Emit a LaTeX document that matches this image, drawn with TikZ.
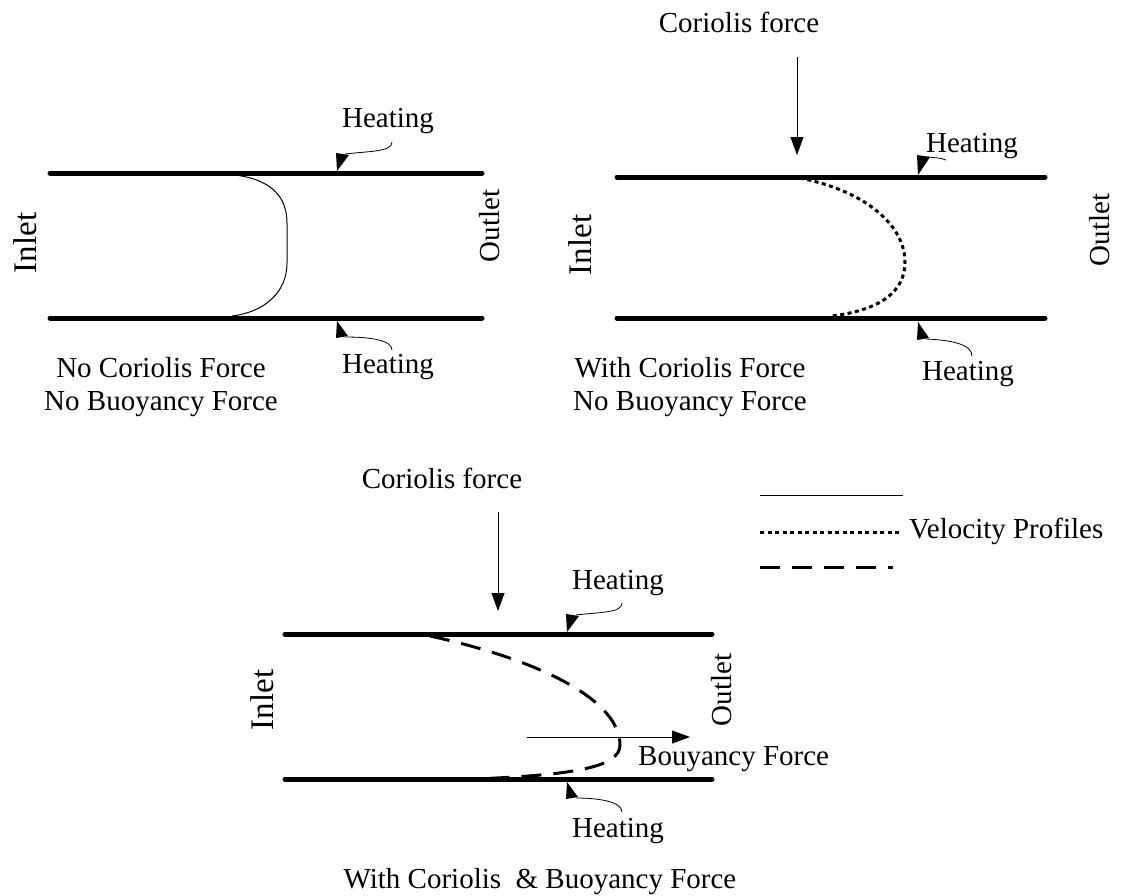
\documentclass[tikz,border=0pt]{standalone}
\usepackage{fontspec}
\setmainfont{Liberation Serif}
\usetikzlibrary{arrows.meta}
\begin{document}
\begin{tikzpicture}[x=1pt,y=-1pt,
  wall/.style={line width=5pt,line cap=round},
  lbl/.style={inner sep=0pt,font=\fontsize{29}{34}\selectfont},
  vlbl/.style={lbl,rotate=90},
  inlbl/.style={inner sep=0pt,rotate=90,font=\fontsize{33}{38}\selectfont},
  leader/.style={line width=0.8pt},
  tri/.style={fill=black,draw=none},
  force/.style={line width=0.8pt,-{Triangle[length=18pt,width=13pt]}},
  solidprof/.style={line width=1pt},
  dotprof/.style={line width=3pt,dash pattern=on 4pt off 3.5pt},
  dashprof/.style={line width=3pt,dash pattern=on 20pt off 12pt}]
\useasboundingbox (0,0) rectangle (1124,895);

% ---------- Panel 1 ----------
\coordinate (p1tl) at (50,173);  \coordinate (p1tr) at (482,173);
\coordinate (p1bl) at (50,318);  \coordinate (p1br) at (482,318);
\draw[wall] (p1tl) -- (p1tr);
\draw[wall] (p1bl) -- (p1br);
\node[inlbl] (in1) at (25,243) {Inlet};
\node[vlbl] (out1) at (490,226) {Outlet};
\draw[solidprof] (235,175) .. controls (275,180) and (287,200) .. (287,223) -- (287,263) .. controls (287,292) and (265,312) .. (232,316);
\node[lbl] (h1t) at (388,121) {Heating};
\coordinate (h1ta) at (392,142); \coordinate (h1tb) at (345,154);
\draw[leader] (h1ta) .. controls (392,152) and (370,151) .. (h1tb);
\fill[tri] (336,153) -- (349,155) -- (337,171) -- cycle;
\node[lbl] (h1b) at (388,367) {Heating};
\coordinate (h1ba) at (392,350); \coordinate (h1bb) at (345,337);
\draw[leader] (h1ba) .. controls (392,340) and (370,337) .. (h1bb);
\fill[tri] (337,321) -- (348,336) -- (336,338) -- cycle;
\node[lbl] (c1a) at (161,368) {No Coriolis Force};
\node[lbl] (c1b) at (161,404) {No Buoyancy Force};

% ---------- Panel 2 ----------
\coordinate (p2tl) at (617,177);  \coordinate (p2tr) at (1045,177);
\coordinate (p2bl) at (617,318);  \coordinate (p2br) at (1045,318);
\draw[wall] (p2tl) -- (p2tr);
\draw[wall] (p2bl) -- (p2br);
\node[inlbl] (in2) at (580,245) {Inlet};
\node[vlbl] (out2) at (1100,230) {Outlet};
\draw[dotprof] (800,178) .. controls (870,192) and (905,228) .. (905,262) .. controls (905,292) and (880,310) .. (832,316);
\node[lbl] (cor2) at (739,22) {Coriolis force};
\coordinate (cor2s) at (797,57); \coordinate (cor2e) at (797,155);
\draw[force] (cor2s) -- (cor2e);
\node[lbl] (h2t) at (972,146) {Heating};
\coordinate (h2ta) at (946,160); \coordinate (h2tb) at (927,157);
\draw[leader] (h2ta) .. controls (940,158) .. (h2tb);
\fill[tri] (917,155) -- (930,157) -- (918,175) -- cycle;
\node[lbl] (h2b) at (968,374) {Heating};
\coordinate (h2ba) at (972,356); \coordinate (h2bb) at (926,339);
\draw[leader] (h2ba) .. controls (972,344) and (950,340) .. (h2bb);
\fill[tri] (918,322) -- (929,338) -- (917,340) -- cycle;
\node[lbl] (c2a) at (690,368) {With Coriolis Force};
\node[lbl] (c2b) at (690,404) {No Buoyancy Force};

% ---------- Legend ----------
\coordinate (l1a) at (760,495); \coordinate (l1b) at (903,495);
\coordinate (l2a) at (760,532); \coordinate (l2b) at (900,532);
\coordinate (l3a) at (760,567); \coordinate (l3b) at (893,567);
\draw[solidprof] (l1a) -- (l1b);
\draw[dotprof] (l2a) -- (l2b);
\draw[dashprof] (l3a) -- (l3b);
\node[lbl,anchor=west] (vp) at (909,531) {Velocity Profiles};

% ---------- Panel 3 ----------
\coordinate (p3tl) at (285,634);  \coordinate (p3tr) at (712,634);
\coordinate (p3bl) at (285,779);  \coordinate (p3br) at (712,779);
\draw[wall] (p3tl) -- (p3tr);
\draw[wall] (p3bl) -- (p3br);
\node[inlbl] (in3) at (262,700) {Inlet};
\node[vlbl] (out3) at (722,690) {Outlet};
\draw[dashprof] (430,636) .. controls (540,660) and (620,700) .. (620,745) .. controls (620,768) and (570,775) .. (475,779);
\node[lbl] (cor3) at (442,478) {Coriolis force};
\coordinate (cor3s) at (498,512); \coordinate (cor3e) at (498,611);
\draw[force] (cor3s) -- (cor3e);
\node[lbl] (h3t) at (618,583) {Heating};
\coordinate (h3ta) at (622,603); \coordinate (h3tb) at (576,615);
\draw[leader] (h3ta) .. controls (622,613) and (600,612) .. (h3tb);
\fill[tri] (566,614) -- (579,616) -- (567,632) -- cycle;
\node[lbl] (h3b) at (618,831) {Heating};
\coordinate (h3ba) at (622,812); \coordinate (h3bb) at (576,798);
\draw[leader] (h3ba) .. controls (622,802) and (600,798) .. (h3bb);
\fill[tri] (567,782) -- (578,797) -- (566,799) -- cycle;
\coordinate (b3s) at (527,737); \coordinate (b3e) at (690,737);
\draw[force] (b3s) -- (b3e);
\node[lbl,anchor=west] (bf) at (638,759) {Bouyancy Force};
\node[lbl] (c3) at (540,882) {With Coriolis\ \ \& Buoyancy Force};
\end{tikzpicture}
\end{document}
